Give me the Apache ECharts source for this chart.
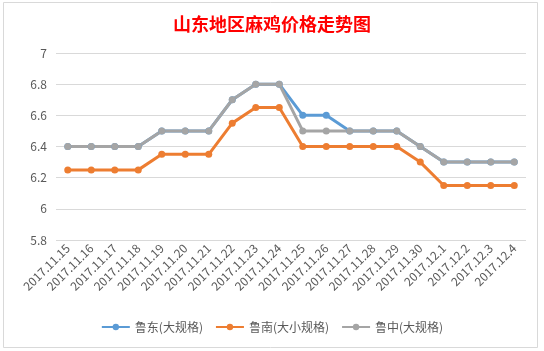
<!DOCTYPE html>
<html>
<head>
<meta charset="utf-8">
<script src="https://cdn.jsdelivr.net/npm/echarts@6/dist/echarts.min.js"></script>
<style>
  html, body { margin: 0; padding: 0; background: #fff; }
  #chart { width: 544px; height: 351px; }
</style>
</head>
<body>
<div id="chart"></div>
<script>
/* ---- data ---- */
const dates = ["2017.11.15", "2017.11.16", "2017.11.17", "2017.11.18", "2017.11.19",
  "2017.11.20", "2017.11.21", "2017.11.22", "2017.11.23", "2017.11.24", "2017.11.25",
  "2017.11.26", "2017.11.27", "2017.11.28", "2017.11.29", "2017.11.30", "2017.12.1",
  "2017.12.2", "2017.12.3", "2017.12.4"];
const ludong = [6.4, 6.4, 6.4, 6.4, 6.5, 6.5, 6.5, 6.7, 6.8, 6.8, 6.6, 6.6, 6.5, 6.5, 6.5, 6.4, 6.3, 6.3, 6.3, 6.3];
const lunan = [6.25, 6.25, 6.25, 6.25, 6.35, 6.35, 6.35, 6.55, 6.65, 6.65, 6.4, 6.4, 6.4, 6.4, 6.4, 6.3, 6.15, 6.15, 6.15, 6.15];
const luzhong = [6.4, 6.4, 6.4, 6.4, 6.5, 6.5, 6.5, 6.7, 6.8, 6.8, 6.5, 6.5, 6.5, 6.5, 6.5, 6.4, 6.3, 6.3, 6.3, 6.3];
const seriesNames = ["鲁东(大规格)", "鲁南(大小规格)", "鲁中(大规格)"];
const colors = ["#5B9BD5", "#ED7D31", "#A5A5A5"];

const font = "'Microsoft YaHei', 'Noto Sans CJK SC', sans-serif";

const line = (name, data, color) => ({
  name, type: "line", data,
  symbol: "circle", symbolSize: 7,
  lineStyle: { color, width: 3 },
  itemStyle: { color },
  z: 2
});

const chart = echarts.init(document.getElementById("chart"), null, { renderer: "canvas" });
chart.setOption({
  animation: false,
  color: colors,
  textStyle: { fontFamily: font },
  // chart frame, like the spreadsheet chart box
  graphic: [{
    type: "rect", silent: true, z: -1,
    shape: { x: 3.5, y: 2.5, width: 534, height: 345 },
    style: { fill: "#fff", stroke: "#D9D9D9", lineWidth: 1 }
  }],
  title: {
    text: "山东地区麻鸡价格走势图",
    left: "center", top: 10,
    textStyle: { color: "#FF0000", fontSize: 18, fontWeight: "bold", fontFamily: font }
  },
  grid: { left: 56, right: 18, top: 53, bottom: 111 },
  legend: {
    bottom: 13, left: "center",
    itemWidth: 28, itemHeight: 8, itemGap: 12,
    textStyle: { color: "#595959", fontSize: 12 },
    data: seriesNames
  },
  xAxis: {
    type: "category", data: dates, boundaryGap: true,
    axisLine: { show: false }, axisTick: { show: false },
    axisLabel: { rotate: 45, interval: 0, color: "#595959", fontSize: 12, margin: 6 }
  },
  yAxis: {
    type: "value", min: 5.8, max: 7, interval: 0.2,
    axisLabel: {
      color: "#595959", fontSize: 12, margin: 9,
      formatter: (v) => String(Math.round(v * 10) / 10)
    },
    splitLine: { lineStyle: { color: "#D9D9D9", width: 1 } }
  },
  series: [
    line(seriesNames[0], ludong, colors[0]),
    line(seriesNames[1], lunan, colors[1]),
    line(seriesNames[2], luzhong, colors[2])
  ]
});
</script>
</body>
</html>
